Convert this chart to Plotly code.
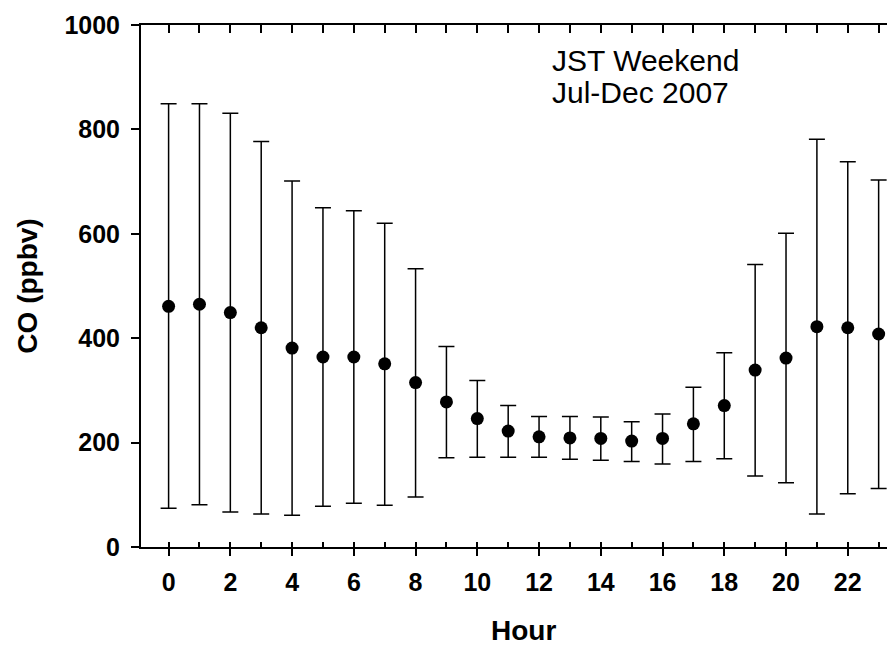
import plotly.graph_objects as go

# hourly CO (ppbv), JST weekend, Jul-Dec 2007
hours = list(range(24))
co_mean = [461, 465, 449, 420, 381, 364, 364, 351, 315, 278, 246, 222,
           211, 209, 208, 203, 208, 236, 271, 339, 362, 422, 420, 408]
co_upper = [849, 849, 831, 777, 701, 650, 644, 620, 533, 384, 319, 271,
            250, 250, 249, 240, 255, 306, 372, 541, 601, 781, 738, 703]
co_lower = [74, 81, 67, 63, 61, 78, 84, 80, 96, 171, 172, 172,
            172, 168, 166, 164, 159, 164, 169, 136, 123, 63, 102, 112]

x_ticks = list(range(0, 24, 2))
y_ticks = [0, 200, 400, 600, 800, 1000]

FONT = "Arial, Liberation Sans, sans-serif"
x_range = [-0.894, 23.53]

fig = go.Figure()

fig.add_trace(
    go.Scatter(
        x=hours,
        y=co_mean,
        mode="markers",
        marker=dict(color="black", size=13),
        error_y=dict(
            type="data",
            symmetric=False,
            array=[u - m for u, m in zip(co_upper, co_mean)],
            arrayminus=[m - l for m, l in zip(co_mean, co_lower)],
            color="black",
            thickness=1.5,
            width=8,
        ),
        showlegend=False,
        hoverinfo="x+y",
    )
)

# empty trace so the top (mirror) axis gets drawn
fig.add_trace(go.Scatter(x=[], y=[], xaxis="x2", showlegend=False, hoverinfo="skip"))

fig.update_layout(
    width=887,
    height=637,
    margin=dict(l=133, r=0, t=17, b=98),
    paper_bgcolor="white",
    plot_bgcolor="white",
    font=dict(family=FONT, color="black"),
    xaxis=dict(
        range=x_range,
        tickvals=x_ticks,
        ticks="outside",
        ticklen=7,
        tickwidth=1.5,
        tickcolor="black",
        showline=True,
        linewidth=2,
        linecolor="black",
        showgrid=False,
        zeroline=False,
        tickfont=dict(family=FONT, size=25, color="black", weight="bold"),
        ticklabelstandoff=5,
        minor=dict(ticks="inside", dtick=1, tick0=1, ticklen=5,
                   tickwidth=1.5, tickcolor="black", showgrid=False),
    ),
    xaxis2=dict(
        range=x_range,
        overlaying="x",
        side="top",
        anchor="y",
        dtick=1,
        tick0=0,
        ticks="inside",
        ticklen=8,
        tickwidth=1.5,
        tickcolor="black",
        showticklabels=False,
        showline=True,
        linewidth=2,
        linecolor="black",
        showgrid=False,
        zeroline=False,
    ),
    yaxis=dict(
        range=[0, 1000],
        tickvals=y_ticks,
        ticks="outside",
        ticklen=8,
        tickwidth=1.5,
        tickcolor="black",
        showline=True,
        linewidth=2,
        linecolor="black",
        showgrid=False,
        zeroline=False,
        tickfont=dict(family=FONT, size=25, color="black", weight="bold"),
        ticklabelstandoff=6,
        title=dict(text="CO (ppbv)", standoff=19,
                   font=dict(family=FONT, size=28, color="black", weight="bold")),
    ),
)

# x-axis title, centred on the full (uncropped) hour range
fig.add_annotation(
    text="Hour", x=11.5, xref="x", y=-0.16, yref="paper",
    xanchor="center", yanchor="middle", showarrow=False,
    font=dict(family=FONT, size=28, color="black", weight="bold"),
)

# label in the upper right
fig.add_annotation(
    text="JST Weekend", x=12.36, xref="x", y=932, yref="y",
    xanchor="left", yanchor="middle", showarrow=False,
    font=dict(family=FONT, size=30, color="black"),
)
fig.add_annotation(
    text="Jul-Dec 2007", x=12.36, xref="x", y=871, yref="y",
    xanchor="left", yanchor="middle", showarrow=False,
    font=dict(family=FONT, size=30, color="black"),
)

fig.write_html("out.html")
